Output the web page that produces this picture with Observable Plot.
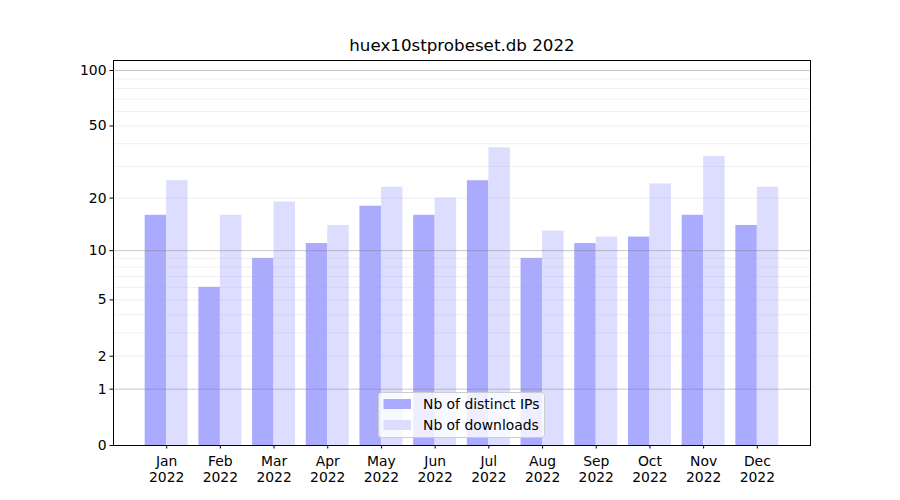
<!DOCTYPE html>
<html>
<head>
<meta charset="utf-8">
<script src="https://cdn.jsdelivr.net/npm/d3@7"></script>
<script src="https://cdn.jsdelivr.net/npm/@observablehq/plot@0.6"></script>
<style>
  body { margin: 0; background: #fff; }
  #chart svg { font-family: "DejaVu Sans", sans-serif; }
</style>
</head>
<body>
<div id="chart"></div>
<script>
const title = "huex10stprobeset.db 2022";
const months = ["Jan","Feb","Mar","Apr","May","Jun","Jul","Aug","Sep","Oct","Nov","Dec"];
const year = "2022";
const distinctIPs = [16, 6, 9, 11, 18, 16, 25, 9, 11, 12, 16, 14];
const downloads = [25, 16, 19, 14, 23, 20, 38, 13, 12, 24, 34, 23];
const yTicks = [0, 1, 2, 5, 10, 20, 50, 100];
const majorGrid = [1, 10, 100];
const minorGrid = [2, 3, 4, 5, 6, 7, 8, 9, 20, 30, 40, 50, 60, 70, 80, 90];
const seriesNames = ["Nb of distinct IPs", "Nb of downloads"];
const colors = ["#aaaaff", "#ddddff"];

const rows = months.map((m, i) => ({i, m, ip: distinctIPs[i], dl: downloads[i]}));
const barW = 0.4;

const plot = Plot.plot({
  width: 900,
  height: 500,
  marginLeft: 113,
  marginRight: 90,
  marginTop: 60,
  marginBottom: 55,
  style: {fontFamily: "DejaVu Sans, sans-serif", fontSize: "13.9px", color: "black", background: "white"},
  x: {type: "linear", domain: [-0.99, 11.99]},
  y: {type: "symlog", constant: 1, domain: [0, 113.2]},
  marks: [
    Plot.rect(rows, {x1: d => d.i - barW, x2: d => d.i, y1: d => 0, y2: "ip", fill: colors[0]}),
    Plot.rect(rows, {x1: d => d.i, x2: d => d.i + barW, y1: d => 0, y2: "dl", fill: colors[1]}),
    Plot.ruleY(minorGrid, {stroke: "#b0b0b0", strokeOpacity: 0.25, strokeWidth: 0.8}),
    Plot.ruleY(majorGrid, {stroke: "#808080", strokeOpacity: 0.45, strokeWidth: 1}),
    Plot.frame({stroke: "black", strokeWidth: 1}),
    Plot.axisY({ticks: yTicks, tickFormat: d => String(d), tickSize: 3.5, tickPadding: 3.5, label: null, fontSize: 13.9}),
    Plot.axisX({ticks: d3.range(months.length), tickFormat: i => months[i] + "\n" + year, tickSize: 3.5, tickPadding: 5, label: null, fontSize: 13.9, lineHeight: 1.17}),
    Plot.text([title], {text: d => d, frameAnchor: "top", lineAnchor: "middle", dy: -15, fontSize: 16.7, fill: "black"})
  ]
});

document.getElementById("chart").appendChild(plot);

// legend (lower center inside axes)
const svg = d3.select(plot);
const lg = svg.append("g")
  .attr("font-family", "DejaVu Sans, sans-serif")
  .attr("font-size", 13.9)
  .attr("text-anchor", "start");
lg.append("rect").attr("x", 378.5).attr("y", 392.5).attr("width", 166).attr("height", 45)
  .attr("rx", 3).style("fill", "white").style("fill-opacity", 0.8).style("stroke", "#cccccc");
seriesNames.forEach((name, k) => {
  const yy = 399 + k * 21;
  lg.append("rect").attr("x", 383.5).attr("y", yy).attr("width", 27.5).attr("height", 10)
    .style("fill", colors[k]).style("stroke", "none");
  lg.append("text").attr("x", 423).attr("y", yy + 5).attr("dy", "0.35em")
    .style("fill", "black").style("text-anchor", "start").text(name);
});
</script>
</body>
</html>
